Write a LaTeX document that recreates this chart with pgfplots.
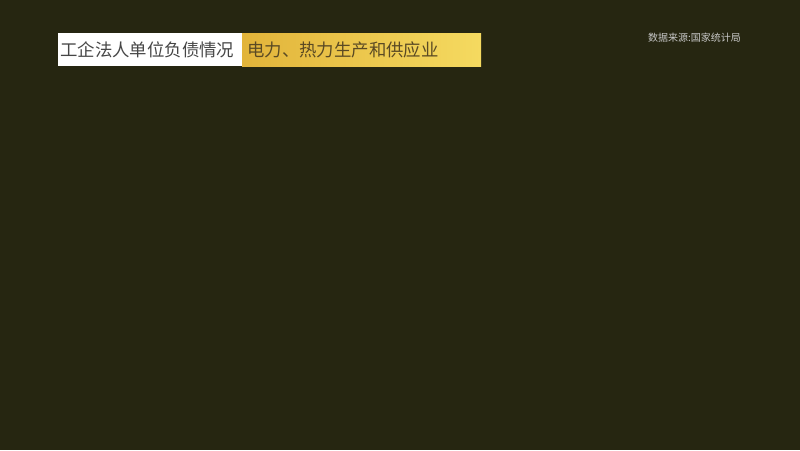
\documentclass[border=0pt]{standalone}
\usepackage{fontspec}
\usepackage{pgfplots}
\pgfplotsset{compat=1.18}
\newfontfamily\cjk{Noto Sans CJK SC}
\definecolor{bg}{RGB}{38,38,17}
\definecolor{goldL}{RGB}{226,180,58}
\definecolor{goldR}{RGB}{245,218,96}
\definecolor{titlegray}{RGB}{70,70,70}
\definecolor{titlebrown}{RGB}{90,74,36}
\definecolor{srcgray}{RGB}{200,200,200}
\begin{document}
\begin{tikzpicture}
\begin{axis}[
  at={(0,0)}, anchor=south west,
  scale only axis, width=800pt, height=450pt,
  xmin=0, xmax=800, ymin=0, ymax=450,
  y dir=reverse, hide axis, clip=false,
]
% background (the chart itself has not been drawn yet in this frame)
\fill[bg] (axis cs:0,0) rectangle (axis cs:800,450);
% title banner
\fill[white] (axis cs:58,33) rectangle (axis cs:242,66);
\shade[left color=goldL, right color=goldR] (axis cs:242,33) rectangle (axis cs:481,66);
\node[anchor=west, inner sep=0, text=titlegray, font=\cjk\fontsize{17.4}{17.4}\selectfont]
  at (axis cs:60,50) {工企法人单位负债情况};
\node[anchor=west, inner sep=0, text=titlebrown, font=\cjk\fontsize{17.4}{17.4}\selectfont]
  at (axis cs:247,50) {电力、热力生产和供应业};
% source
\node[anchor=west, inner sep=0, text=srcgray, font=\cjk\fontsize{10}{10}\selectfont]
  at (axis cs:648,38) {数据来源:国家统计局};
\end{axis}
\end{tikzpicture}
\end{document}
